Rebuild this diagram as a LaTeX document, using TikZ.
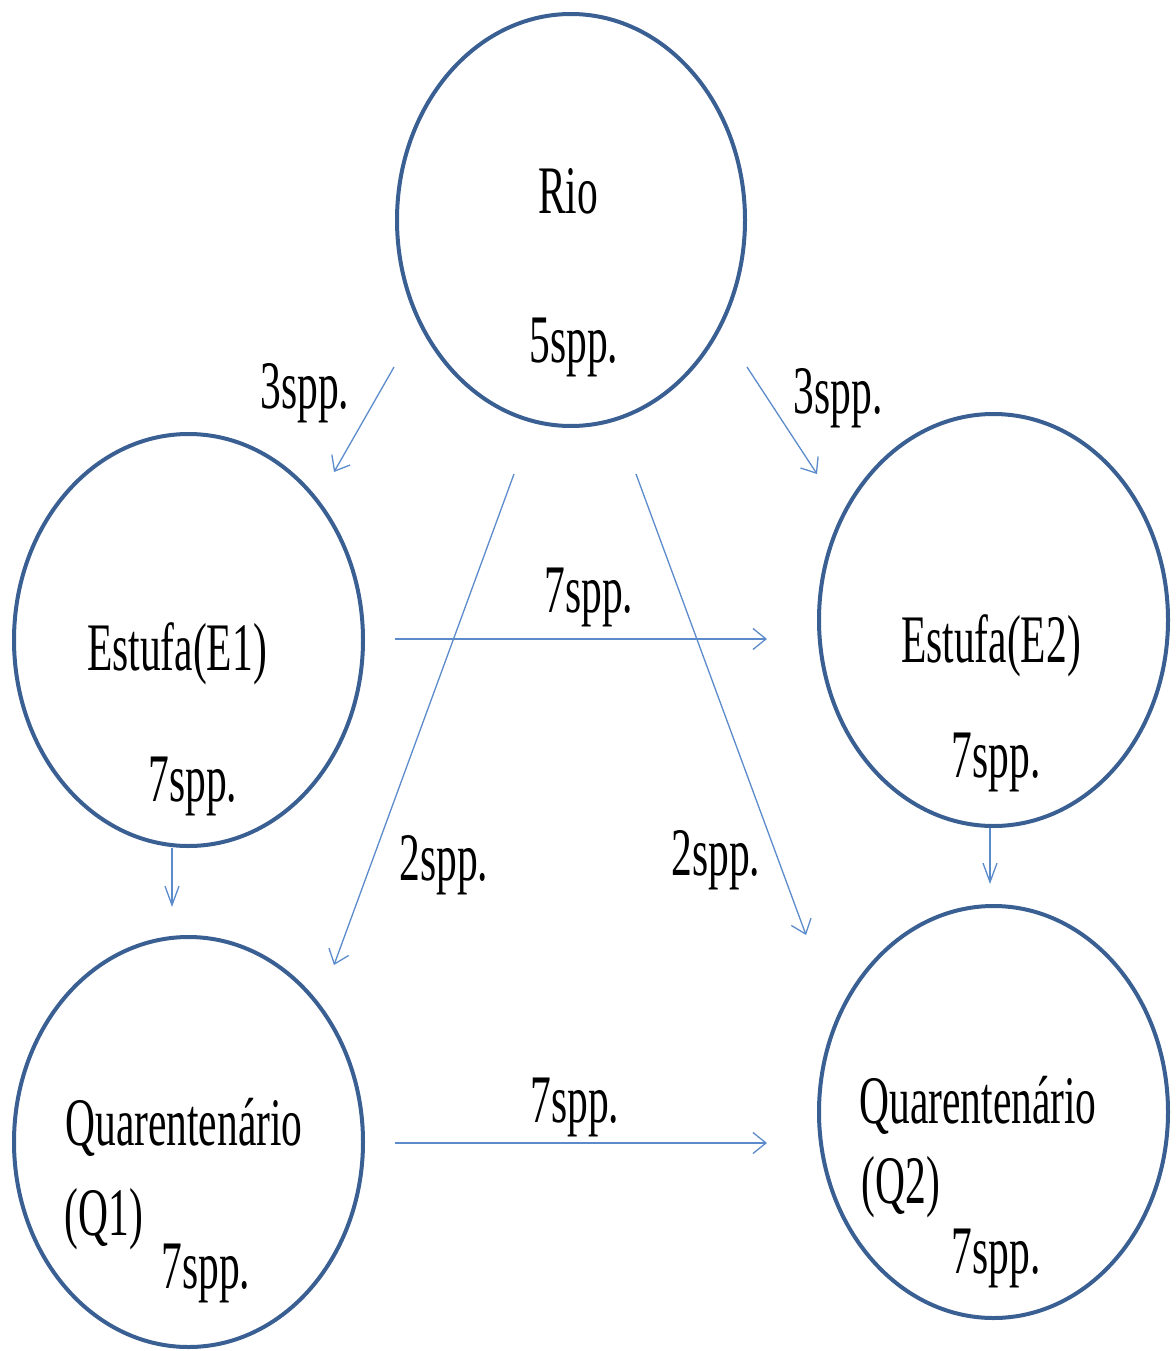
\documentclass[tikz,border=0pt]{standalone}
\usepackage{fontspec}
\setmainfont{Liberation Serif}
\usetikzlibrary{arrows.meta}
\definecolor{ringblue}{HTML}{3A5F92}
\definecolor{arrowblue}{HTML}{5B8BCB}
\newcommand{\sqz}[1]{\scalebox{0.61}[1]{#1}}
\begin{document}
\begin{tikzpicture}[x=1pt,y=-1pt,
  ring/.style={draw=ringblue, line width=4pt},
  txt/.style={inner sep=0pt, anchor=base, font=\fontsize{68}{80}\selectfont},
  flow/.style={draw=arrowblue, line width=1.3pt, -{Straight Barb[length=13pt,width=21pt,line width=1.3pt]}},
  vflow/.style={draw=arrowblue, line width=1.3pt, -{Straight Barb[length=19pt,width=14pt,line width=1.3pt]}}]
\useasboundingbox (0,0) rectangle (1175,1351);
% circles
\draw[ring] (571,220) ellipse [x radius=174, y radius=206];
\draw[ring] (188.5,640) ellipse [x radius=174.5, y radius=206];
\draw[ring] (993.5,620) ellipse [x radius=174.5, y radius=206];
\draw[ring] (188.5,1142) ellipse [x radius=174.5, y radius=205];
\draw[ring] (993.5,1112) ellipse [x radius=174.5, y radius=206];
% texts
\node[txt] (rio) at (568,213) {\sqz{Rio}};
\node[txt] (rion) at (574,362) {\sqz{5spp.}};
\node[txt] (e1) at (177,670) {\sqz{Estufa(E1)}};
\node[txt] (e1n) at (193,801) {\sqz{7spp.}};
\node[txt] (e2) at (991,662) {\sqz{Estufa(E2)}};
\node[txt] (e2n) at (996,777) {\sqz{7spp.}};
\node[txt] (q1a) at (184,1145) {\sqz{Quarentenário}};
\node[txt] (q1b) at (104,1235) {\sqz{(Q1)}};
\node[txt] (q1n) at (206,1288) {\sqz{7spp.}};
\node[txt] (q2a) at (978,1123) {\sqz{Quarentenário}};
\node[txt] (q2b) at (901,1203) {\sqz{(Q2)}};
\node[txt] (q2n) at (996,1273) {\sqz{7spp.}};
% edge labels
\node[txt] (l1) at (305,408) {\sqz{3spp.}};
\node[txt] (l2) at (838,413) {\sqz{3spp.}};
\node[txt] (l3) at (589,612) {\sqz{7spp.}};
\node[txt] (l4) at (444,880) {\sqz{2spp.}};
\node[txt] (l5) at (716,875) {\sqz{2spp.}};
\node[txt] (l6) at (575,1122) {\sqz{7spp.}};
% connector end points
\coordinate (a1s) at (394,367);  \coordinate (a1e) at (334,472);
\coordinate (a2s) at (747,367);  \coordinate (a2e) at (817,474);
\coordinate (a3s) at (395,639);  \coordinate (a3e) at (767,639);
\coordinate (a4s) at (514,474);  \coordinate (a4e) at (334,965);
\coordinate (a5s) at (636,474);  \coordinate (a5e) at (806,935);
\coordinate (a6s) at (172,848);  \coordinate (a6e) at (172,907);
\coordinate (a7s) at (990,828);  \coordinate (a7e) at (990,884);
\coordinate (a8s) at (395,1143); \coordinate (a8e) at (767,1143);
% connectors
\draw[flow] (a1s) -- (a1e);
\draw[flow] (a2s) -- (a2e);
\draw[flow] (a3s) -- (a3e);
\draw[flow] (a4s) -- (a4e);
\draw[flow] (a5s) -- (a5e);
\draw[vflow] (a6s) -- (a6e);
\draw[vflow] (a7s) -- (a7e);
\draw[flow] (a8s) -- (a8e);
\end{tikzpicture}
\end{document}
